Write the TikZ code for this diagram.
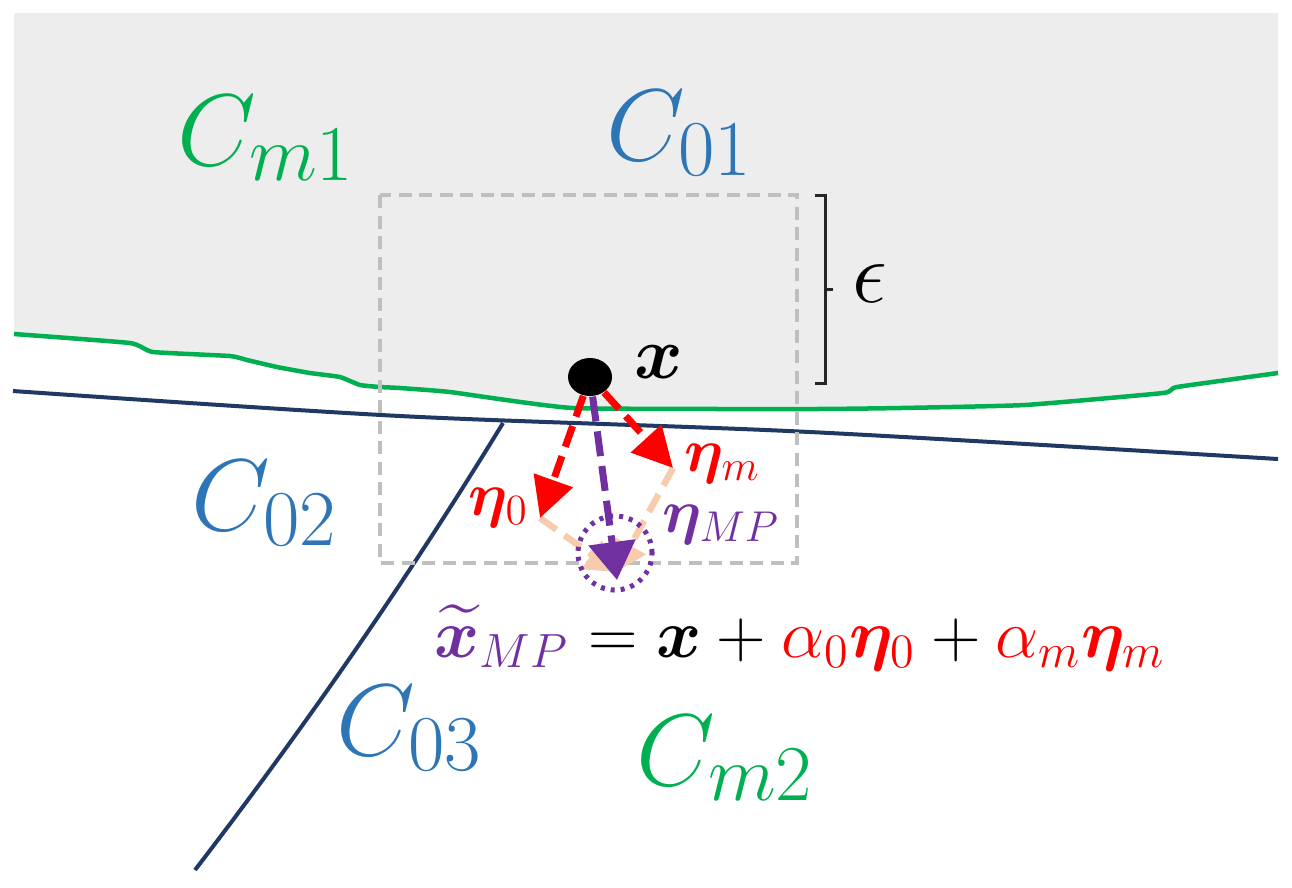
\RequirePackage{fix-cm}
\documentclass[tikz,border=0pt]{standalone}
\usepackage{amsmath}
\usepackage{bm}
\usetikzlibrary{arrows.meta,shapes.geometric}
\definecolor{bggray}{HTML}{EDEDED}
\definecolor{cgreen}{HTML}{00B050}
\definecolor{cblue}{HTML}{2E75B6}
\definecolor{cnavy}{HTML}{1F3864}
\definecolor{cred}{HTML}{FF0000}
\definecolor{cpurple}{HTML}{7030A0}
\definecolor{cpeach}{HTML}{F8CBAD}
\definecolor{rectgray}{HTML}{BFBFBF}
\newcommand\bigsub[1]{\text{\fontsize{22.5}{26}\selectfont$#1$}}
\tikzset{
  lbl/.style={inner sep=0pt, anchor=base west},
  bigC/.style={lbl, font=\fontsize{29}{34}\selectfont},
  eqfont/.style={lbl, font=\fontsize{19.5}{23}\selectfont},
  etafont/.style={lbl, font=\fontsize{17.5}{21}\selectfont},
  curve/.style={line width=0.045cm, line join=round},
  redarrow/.style={cred, line width=0.07cm, dash pattern=on 0.22cm off 0.1cm,
    -{Triangle[length=0.4cm,width=0.4cm]}},
  peacharrow/.style={cpeach, line width=0.065cm, dash pattern=on 0.2cm off 0.1cm,
    -{Triangle[length=0.3cm,width=0.34cm]}},
  purplearrow/.style={cpurple, line width=0.07cm, dash pattern=on 0.25cm off 0.1cm,
    -{Triangle[length=0.38cm,width=0.46cm]}},
}
\begin{document}
\begin{tikzpicture}[x=0.01cm,y=-0.01cm]
\useasboundingbox (0,0) rectangle (1292,887);
% gray region above the green curve
\fill[bggray] (14,13) -- plot[smooth, tension=0.25] coordinates {(14,334) (130,343) (153,352) (230,356) (247,360) (277,367) (310,373) (340,377) (360,385) (380,387) (400,388) (450,392) (573,408) (810,409) (900,408) (1025,405) (1163,393) (1177,387) (1278,373)} -- (1278,13) -- cycle;
% green boundary
\draw[curve, cgreen] plot[smooth, tension=0.25] coordinates {(14,334) (130,343) (153,352) (230,356) (247,360) (277,367) (310,373) (340,377) (360,385) (380,387) (400,388) (450,392) (573,408) (810,409) (900,408) (1025,405) (1163,393) (1177,387) (1278,373)};
% navy boundaries
\draw[curve, cnavy, line width=0.04cm] plot[smooth] coordinates {(13,391) (400,416) (810,432) (1278,459)};
\draw[curve, cnavy, line width=0.04cm] (503,423) .. controls (410,575) and (310,720) .. (195,870);
% epsilon box
\draw[rectgray, line width=0.035cm, dash pattern=on 0.13cm off 0.075cm] (380,195) rectangle (797,563);
% bracket
\coordinate (bt) at (815,195);
\coordinate (bb) at (815,383);
\coordinate (bm) at (825,289);
\draw[black!85, line width=0.03cm] (bt) -- (825,195) -- (825,383) -- (bb);
\draw[black!85, line width=0.03cm] (bm) -- (833,289);
\node[lbl, font=\fontsize{25}{30}\selectfont] (eps) at (852,302) {$\epsilon$};
% point x
\node[ellipse, fill=black, minimum width=0.44cm, minimum height=0.38cm, inner sep=0pt] (x) at (590,377) {};
\node[lbl, font=\fontsize{21}{25}\selectfont] (xl) at (634,378) {$\bm{x}$};
% tips
\coordinate (t0) at (540,518);
\coordinate (tm) at (673,468);
\coordinate (mp) at (616,572);
\coordinate (tmp) at (617,580);
% peach completion lines
\draw[peacharrow] (t0) -- (mp);
\draw[peacharrow] (tm) -- (mp);
% red arrows
\draw[redarrow] (x) -- (t0);
\draw[redarrow] (x) -- (tm);
% purple arrow
\draw[purplearrow] (x) -- (tmp);
% dotted circle
\node[circle, draw=cpurple, line width=0.05cm, dash pattern=on 0.04cm off 0.06cm, minimum size=0.74cm, inner sep=0pt] (circ) at (615,553) {};
% eta labels
\node[etafont, cred] (eta0) at (468,515) {$\bm{\eta}_0$};
\node[etafont, cred] (etam) at (684,471) {$\bm{\eta}_m$};
\node[etafont, cpurple] (etamp) at (662,532) {$\bm{\eta}_{MP}$};
% equation
\node[eqfont] (eq) at (434,657) {$\color{cpurple}\widetilde{\bm{x}}_{MP}\color{black} = \bm{x} + \color{cred}\alpha_0\bm{\eta}_0\color{black} + \color{cred}\alpha_m\bm{\eta}_m$};
% region labels
\node[bigC, cgreen] (cm1) at (177,165) {$C_{\bigsub{m1}}$};
\node[bigC, cblue] (c01) at (606,160) {$C_{\bigsub{01}}$};
\node[bigC, cblue] (c02) at (191,530) {$C_{\bigsub{02}}$};
\node[bigC, cblue] (c03) at (336,755) {$C_{\bigsub{03}}$};
\node[bigC, cgreen] (cm2) at (636,785) {$C_{\bigsub{m2}}$};
\end{tikzpicture}
\end{document}
